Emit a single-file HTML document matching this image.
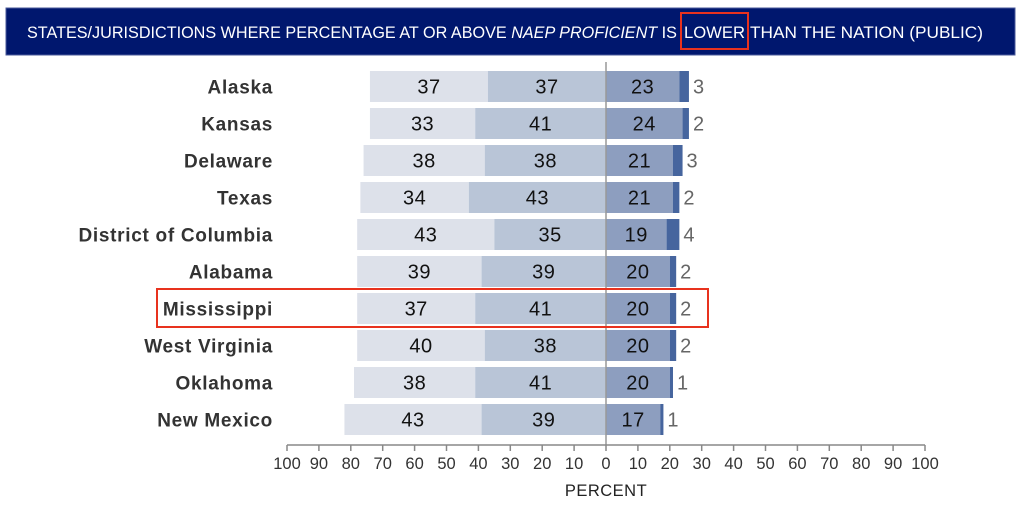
<!DOCTYPE html>
<html><head><meta charset="utf-8"><style>
html,body{margin:0;padding:0;background:#fff;width:1023px;height:507px;overflow:hidden}
svg{display:block;font-family:"Liberation Sans",sans-serif}
</style></head><body>
<svg width="1023" height="507" viewBox="0 0 1023 507">
<rect x="6" y="8" width="1009" height="47" fill="#00176e" stroke="#4a5a9a" stroke-width="1"/>
<text x="27" y="38" fill="#fff" font-size="16.5" textLength="650" lengthAdjust="spacingAndGlyphs">STATES/JURISDICTIONS WHERE PERCENTAGE AT OR ABOVE <tspan font-style="italic">NAEP PROFICIENT</tspan> IS</text>
<text x="684" y="38" fill="#fff" font-size="16.5" textLength="61" lengthAdjust="spacingAndGlyphs">LOWER</text>
<text x="750" y="38" fill="#fff" font-size="16.5" textLength="233" lengthAdjust="spacingAndGlyphs">THAN THE NATION (PUBLIC)</text>
<rect x="681" y="13" width="67" height="36" fill="none" stroke="#e8321e" stroke-width="2"/>
<g id="bars"></g>
<line x1="606" y1="62" x2="606" y2="445" stroke="#999" stroke-width="1.5"/>
<line x1="287" y1="445" x2="925" y2="445" stroke="#888" stroke-width="1.5"/>
<g id="ticks"></g>
<text x="606" y="496" font-size="16.5" fill="#222" text-anchor="middle" letter-spacing="0.5">PERCENT</text>
<rect x="157" y="289" width="551" height="38" fill="none" stroke="#e8321e" stroke-width="2"/>
</svg>
<script>
var d=[["Alaska",37,37,23,3],["Kansas",33,41,24,2],["Delaware",38,38,21,3],["Texas",34,43,21,2],["District of Columbia",43,35,19,4],["Alabama",39,39,20,2],["Mississippi",37,41,20,2],["West Virginia",40,38,20,2],["Oklahoma",38,41,20,1],["New Mexico",43,39,17,1]];
var s=3.19,z=606,ns="http://www.w3.org/2000/svg",g=document.getElementById("bars");
function el(t,a,txt){var e=document.createElementNS(ns,t);for(var k in a)e.setAttribute(k,a[k]);if(txt!=null)e.textContent=txt;g.appendChild(e);return e}
d.forEach(function(r,i){var y=71+i*37,h=31,cy=y+h/2+7;
var a=r[1],b=r[2],c=r[3],e=r[4];
var x2=z-b*s,x1=x2-a*s;
el("rect",{x:x1,y:y,width:a*s,height:h,fill:"#dde1ea"});
el("rect",{x:x2,y:y,width:b*s,height:h,fill:"#b9c5d7"});
el("rect",{x:z,y:y,width:c*s,height:h,fill:"#8d9ebf"});
el("rect",{x:z+c*s,y:y,width:e*s,height:h,fill:"#46659e"});
el("text",{x:x1+a*s/2,y:cy,"font-size":20,"text-anchor":"middle",fill:"#111","letter-spacing":0.5},a);
el("text",{x:x2+b*s/2,y:cy,"font-size":20,"text-anchor":"middle",fill:"#111","letter-spacing":0.5},b);
el("text",{x:z+c*s/2,y:cy,"font-size":20,"text-anchor":"middle",fill:"#111","letter-spacing":0.5},c);
el("text",{x:z+(c+e)*s+4,y:cy,"font-size":20,fill:"#666"},e);
el("text",{x:273,y:cy,"font-size":19,"font-weight":"bold","text-anchor":"end",fill:"#333","letter-spacing":0.7},r[0]);
});
g=document.getElementById("ticks");
for(var v=-100;v<=100;v+=10){var x=z+v*s;el("line",{x1:x,y1:445,x2:x,y2:451,stroke:"#888","stroke-width":1.5});el("text",{x:x,y:469,"font-size":16.5,"text-anchor":"middle",fill:"#333"},Math.abs(v));}
</script>
</body></html>
